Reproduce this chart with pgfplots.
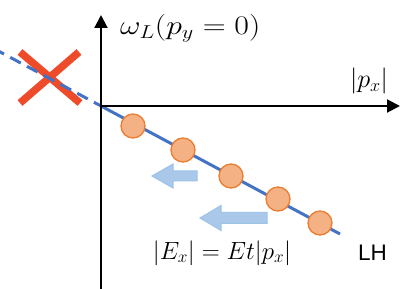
\documentclass[border=0pt]{standalone}
\usepackage{pgfplots}
\pgfplotsset{compat=1.18}
\usepackage{graphicx}
\usepackage{fontspec}
\setsansfont{Liberation Sans}
\usetikzlibrary{arrows.meta}
\definecolor{lineblue}{HTML}{4472C4}
\definecolor{dotfill}{HTML}{F4B183}
\definecolor{dotedge}{HTML}{ED7D31}
\definecolor{xred}{HTML}{EE4B2B}
\definecolor{arrfill}{HTML}{A9C8EA}
\definecolor{arredge}{HTML}{9DC3E6}
\begin{document}
\begin{tikzpicture}
\begin{axis}[
  scale only axis, width=415pt, height=289pt,
  xmin=-101, xmax=314, ymin=-183, ymax=106,
  axis line style={draw=none}, xtick=\empty, ytick=\empty,
  clip=true,
]
% red cross
\addplot[xred, line width=7.5pt, line cap=butt] coordinates {(-81,54) (-21,3)};
\addplot[xred, line width=7.5pt, line cap=butt] coordinates {(-22,54) (-81,3)};
% dispersion line
\addplot[lineblue, line width=3pt, dash pattern=on 12pt off 7pt, dash phase=4pt] coordinates {(0,0) (-115,61.6)};
\addplot[lineblue, line width=3pt] coordinates {(0,0) (239,-128)};
% axes
\addplot[black, line width=2pt, -{Triangle[width=13pt,length=13pt]}] coordinates {(0,0) (299,0)};
\addplot[black, line width=2pt, -{Triangle[width=13pt,length=13pt]}] coordinates {(0,-190) (0,91)};
% block arrows
\addplot[fill=arrfill, draw=arredge, line width=1pt] coordinates {(51,-70) (72,-58) (72,-65) (96,-65) (96,-75) (72,-75) (72,-82)} --cycle;
\addplot[fill=arrfill, draw=arredge, line width=1pt] coordinates {(99,-112) (120,-99.5) (120,-106.5) (166,-106.5) (166,-117.5) (120,-117.5) (120,-124.5)} --cycle;
% points
\addplot[only marks, mark=*, mark size=12pt, mark options={fill=dotfill, draw=dotedge, line width=1.3pt}] coordinates {(32,-20) (82,-44) (130,-70) (177,-93) (219,-117)};
% labels
\node[anchor=west, inner sep=0pt, font=\fontsize{24}{28}\selectfont] at (axis cs:19,78) {\scalebox{1.28}[1.08]{$\omega_L(p_y=0)$}};
\node[anchor=center, font=\fontsize{24}{28}\selectfont] at (axis cs:268,25) {\scalebox{1.05}[1.05]{$|p_x|$}};
\node[anchor=center, font=\fontsize{24}{28}\selectfont] at (axis cs:121,-147) {$|E_x|=Et|p_x|$};
\node[anchor=center, font=\fontsize{22.5}{26}\sffamily] at (axis cs:271.5,-147) {LH};
\end{axis}
\end{tikzpicture}
\end{document}
